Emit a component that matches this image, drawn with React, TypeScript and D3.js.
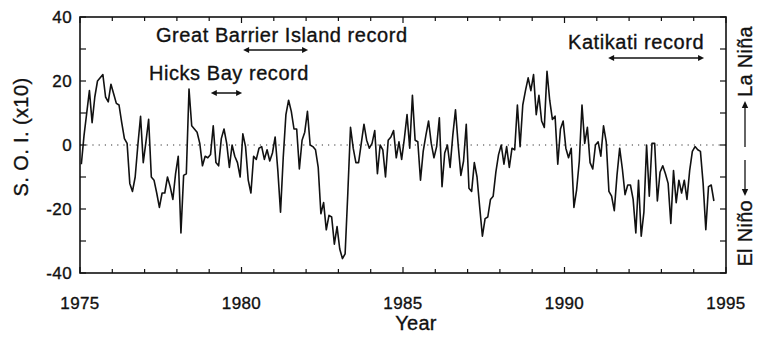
import React from "react";
import * as d3 from "d3";

// Monthly Southern Oscillation Index (x10), January 1975 onwards
const START_YEAR = 1975;
const soiMonthly: number[] = [
  -6, 3, 10, 17, 7, 15, 20, 21, 22, 15, 13.5, 19,
  16, 13, 12.5, 7, 2, 0.5, -12, -14.5, -10, 0, 9, -5.5,
  1, 8, -10, -11, -15, -19.5, -15, -15, -10, -13, -17, -9,
  -3.5, -27.5, -9.5, -9, 17.5, 6, 5, 4, 0.5, -6.5, -3.5, -4,
  -3, 6, -5.5, -6.5, 2, 5, 0.5, -7, 0, -3.5, -5.5, -10,
  3.5, -0.5, -11, -15, -3.5, -4.5, -1, -0.5, -4.5, -1.5, -5, -2.5,
  2.5, -8, -21, -4, 9.5, 14, 10.5, 5, 5, -7.5, 1.5, 4,
  10.5, 0, -0.5, -1.5, -7, -21.5, -18, -26.5, -22, -22.5, -31, -25.5,
  -32.5, -35.5, -34, -15, 5.5, -1, -5.5, -5.5, 0.5, 6.5, 1.5, -1,
  0.5, 4.5, -9, 0, -1.5, -10, 1.5, 2.5, 4.5, -4, 1, -4.5,
  2, 9.5, -1, 15.5, 1.5, 1, -11, -2, 3, 7.5, 0.5, -4,
  -0.5, 8.5, -13, -2.5, 0, -7, 3, 11, 0, -9.5, -5, 6.5,
  -13.5, -14.5, -5.5, -10, -19.5, -28.5, -23, -22.5, -17, -16, -8.5, -3,
  0, -6, -0.5, -7, -1, -1.5, 12.5, -0.5, 12.5, 17, 21, 17,
  22, 9.5, 15.5, 7.5, 5.5, 23, 14, 8, 9, -6, 5, 7.5,
  -1, -4, -1, -19.5, -14, -5, 12.5, 0.5, 5.5, -5.5, -7.5, 0,
  1, -3.5, 6, 1, -14.5, -16, -20.5, -9.5, -1, -7.5, -15.5, -12.5,
  -12.5, -17, -27.5, -11, -28.5, -21, 0, -16, 0.5, 0.5, -17.5, -8.5,
  -6.5, -9, -12, -24.5, -8, -18, -11, -15, -11, -17, -8, -2,
  -0.5, -1.5, -2, -12, -26.5, -13, -12.5, -17.5,
];

const yearTicks = [1975, 1980, 1985, 1990, 1995];
const soiTicks = [40, 20, 0, -20, -40];

// Periods covered by each coral record
const recordLabels = ["Great Barrier Island record", "Hicks Bay record", "Katikati record"];
const recordFrom = [1980.05, 1979.05, 1991.35];
const recordTo = [1982.06, 1980.02, 1994.32];

const W = 764;
const H = 338;
const X0 = 80;
const X1 = 726;
const Y0 = 17;
const Y1 = 273;
const FONT = "'Liberation Sans', Arial, Helvetica, sans-serif";
const INK = "#111";

// where each record label and its span arrow sit
const recordLayout = [
  { tx: 156, ty: 42, ay: 50 },
  { tx: 149, ty: 80, ay: 93 },
  { tx: 568, ty: 49, ay: 58 },
];

// slightly heavier glyphs for all text
const textInk = { fill: INK, stroke: INK, strokeWidth: 0.35 };

function arrowHead(xTip: number, yTip: number, dir: number, len = 6, half = 3) {
  return `M${xTip},${yTip} L${xTip - dir * len},${yTip - half} L${xTip - dir * len},${yTip + half} Z`;
}

export default function App() {
  const x = d3.scaleLinear().domain([1975, 1995]).range([X0, X1]);
  const y = d3.scaleLinear().domain([-40, 40]).range([Y1, Y0]);

  const points: [number, number][] = soiMonthly.map((v, i) => [START_YEAR + (i + 0.5) / 12, v]);
  const line = d3
    .line<[number, number]>()
    .x((d) => x(d[0]))
    .y((d) => y(d[1]));

  const yearMinor = d3.range(1975, 1996);
  const soiMinor = d3.range(-40, 41, 10);

  return (
    <svg
      width={W}
      height={H}
      viewBox={`0 0 ${W} ${H}`}
      style={{ position: "absolute", left: 0, top: 0, background: "#fff" }}
      fontFamily={FONT}
    >
      <rect x={0} y={0} width={W} height={H} fill="#fff" />

      {/* zero reference */}
      <line
        x1={X0}
        x2={X1}
        y1={y(0)}
        y2={y(0)}
        stroke="#333"
        strokeWidth={1}
        strokeDasharray="1.2 5"
      />

      {/* SOI series */}
      <path d={line(points) || ""} fill="none" stroke={INK} strokeWidth={1.6} strokeLinejoin="round" />

      {/* frame */}
      <rect x={X0} y={Y0} width={X1 - X0} height={Y1 - Y0} fill="none" stroke={INK} strokeWidth={1.6} />

      {/* year ticks, top and bottom, pointing inward */}
      {yearMinor.map((yr) => {
        const len = yr % 5 === 0 ? 6 : 4;
        return (
          <g key={`yt${yr}`} stroke={INK} strokeWidth={1.2}>
            <line x1={x(yr)} x2={x(yr)} y1={Y1} y2={Y1 - len} />
            <line x1={x(yr)} x2={x(yr)} y1={Y0} y2={Y0 + len} />
          </g>
        );
      })}

      {/* SOI ticks, left and right */}
      {soiMinor.map((v) => (
        <g key={`st${v}`} stroke={INK} strokeWidth={1.2}>
          <line x1={X0} x2={X0 + 6} y1={y(v)} y2={y(v)} />
          <line x1={X1} x2={X1 - 6} y1={y(v)} y2={y(v)} />
        </g>
      ))}

      {/* tick labels */}
      {yearTicks.map((yr) => (
        <text key={`yl${yr}`} x={x(yr)} y={309} textAnchor="middle" fontSize={17} letterSpacing={0.4} {...textInk}>
          {yr}
        </text>
      ))}
      {soiTicks.map((v) => (
        <text
          key={`sl${v}`}
          x={72}
          y={y(v)}
          dy="0.36em"
          textAnchor="end"
          fontSize={17}
          letterSpacing={0.4}
          {...textInk}
        >
          {v}
        </text>
      ))}

      {/* axis titles */}
      <text x={416} y={330} textAnchor="middle" fontSize={20} letterSpacing={0.3} {...textInk}>
        Year
      </text>
      <text
        transform={`translate(28, 137) rotate(-90)`}
        textAnchor="middle"
        fontSize={20}
        letterSpacing={0.4}
        {...textInk}
      >
        S. O. I. (x10)
      </text>

      {/* phase indicator on the right */}
      <g transform={`translate(752, ${y(0)}) rotate(-90)`} fill={INK}>
        <text x={-55} y={0} textAnchor="end" fontSize={20} letterSpacing={0.3} {...textInk}>
          El Niño
        </text>
        <line x1={-15} x2={-45} y1={-7} y2={-7} stroke={INK} strokeWidth={1.3} />
        <path d={arrowHead(-51, -7, -1, 7, 3.2)} />
        <line x1={-2} x2={38} y1={-7} y2={-7} stroke={INK} strokeWidth={1.3} />
        <path d={arrowHead(44, -7, 1, 7, 3.2)} />
        <text x={48} y={0} textAnchor="start" fontSize={20} letterSpacing={0.3} {...textInk}>
          La Niña
        </text>
      </g>

      {/* record spans */}
      {recordLabels.map((label, i) => {
        const L = recordLayout[i];
        const a = x(recordFrom[i]);
        const b = x(recordTo[i]);
        return (
          <g key={label} fill={INK}>
            <text x={L.tx} y={L.ty} fontSize={20} letterSpacing={0.55} {...textInk}>
              {label}
            </text>
            <line x1={a + 5} x2={b - 5} y1={L.ay} y2={L.ay} stroke={INK} strokeWidth={1.5} />
            <path d={arrowHead(a, L.ay, -1)} />
            <path d={arrowHead(b, L.ay, 1)} />
          </g>
        );
      })}
    </svg>
  );
}
